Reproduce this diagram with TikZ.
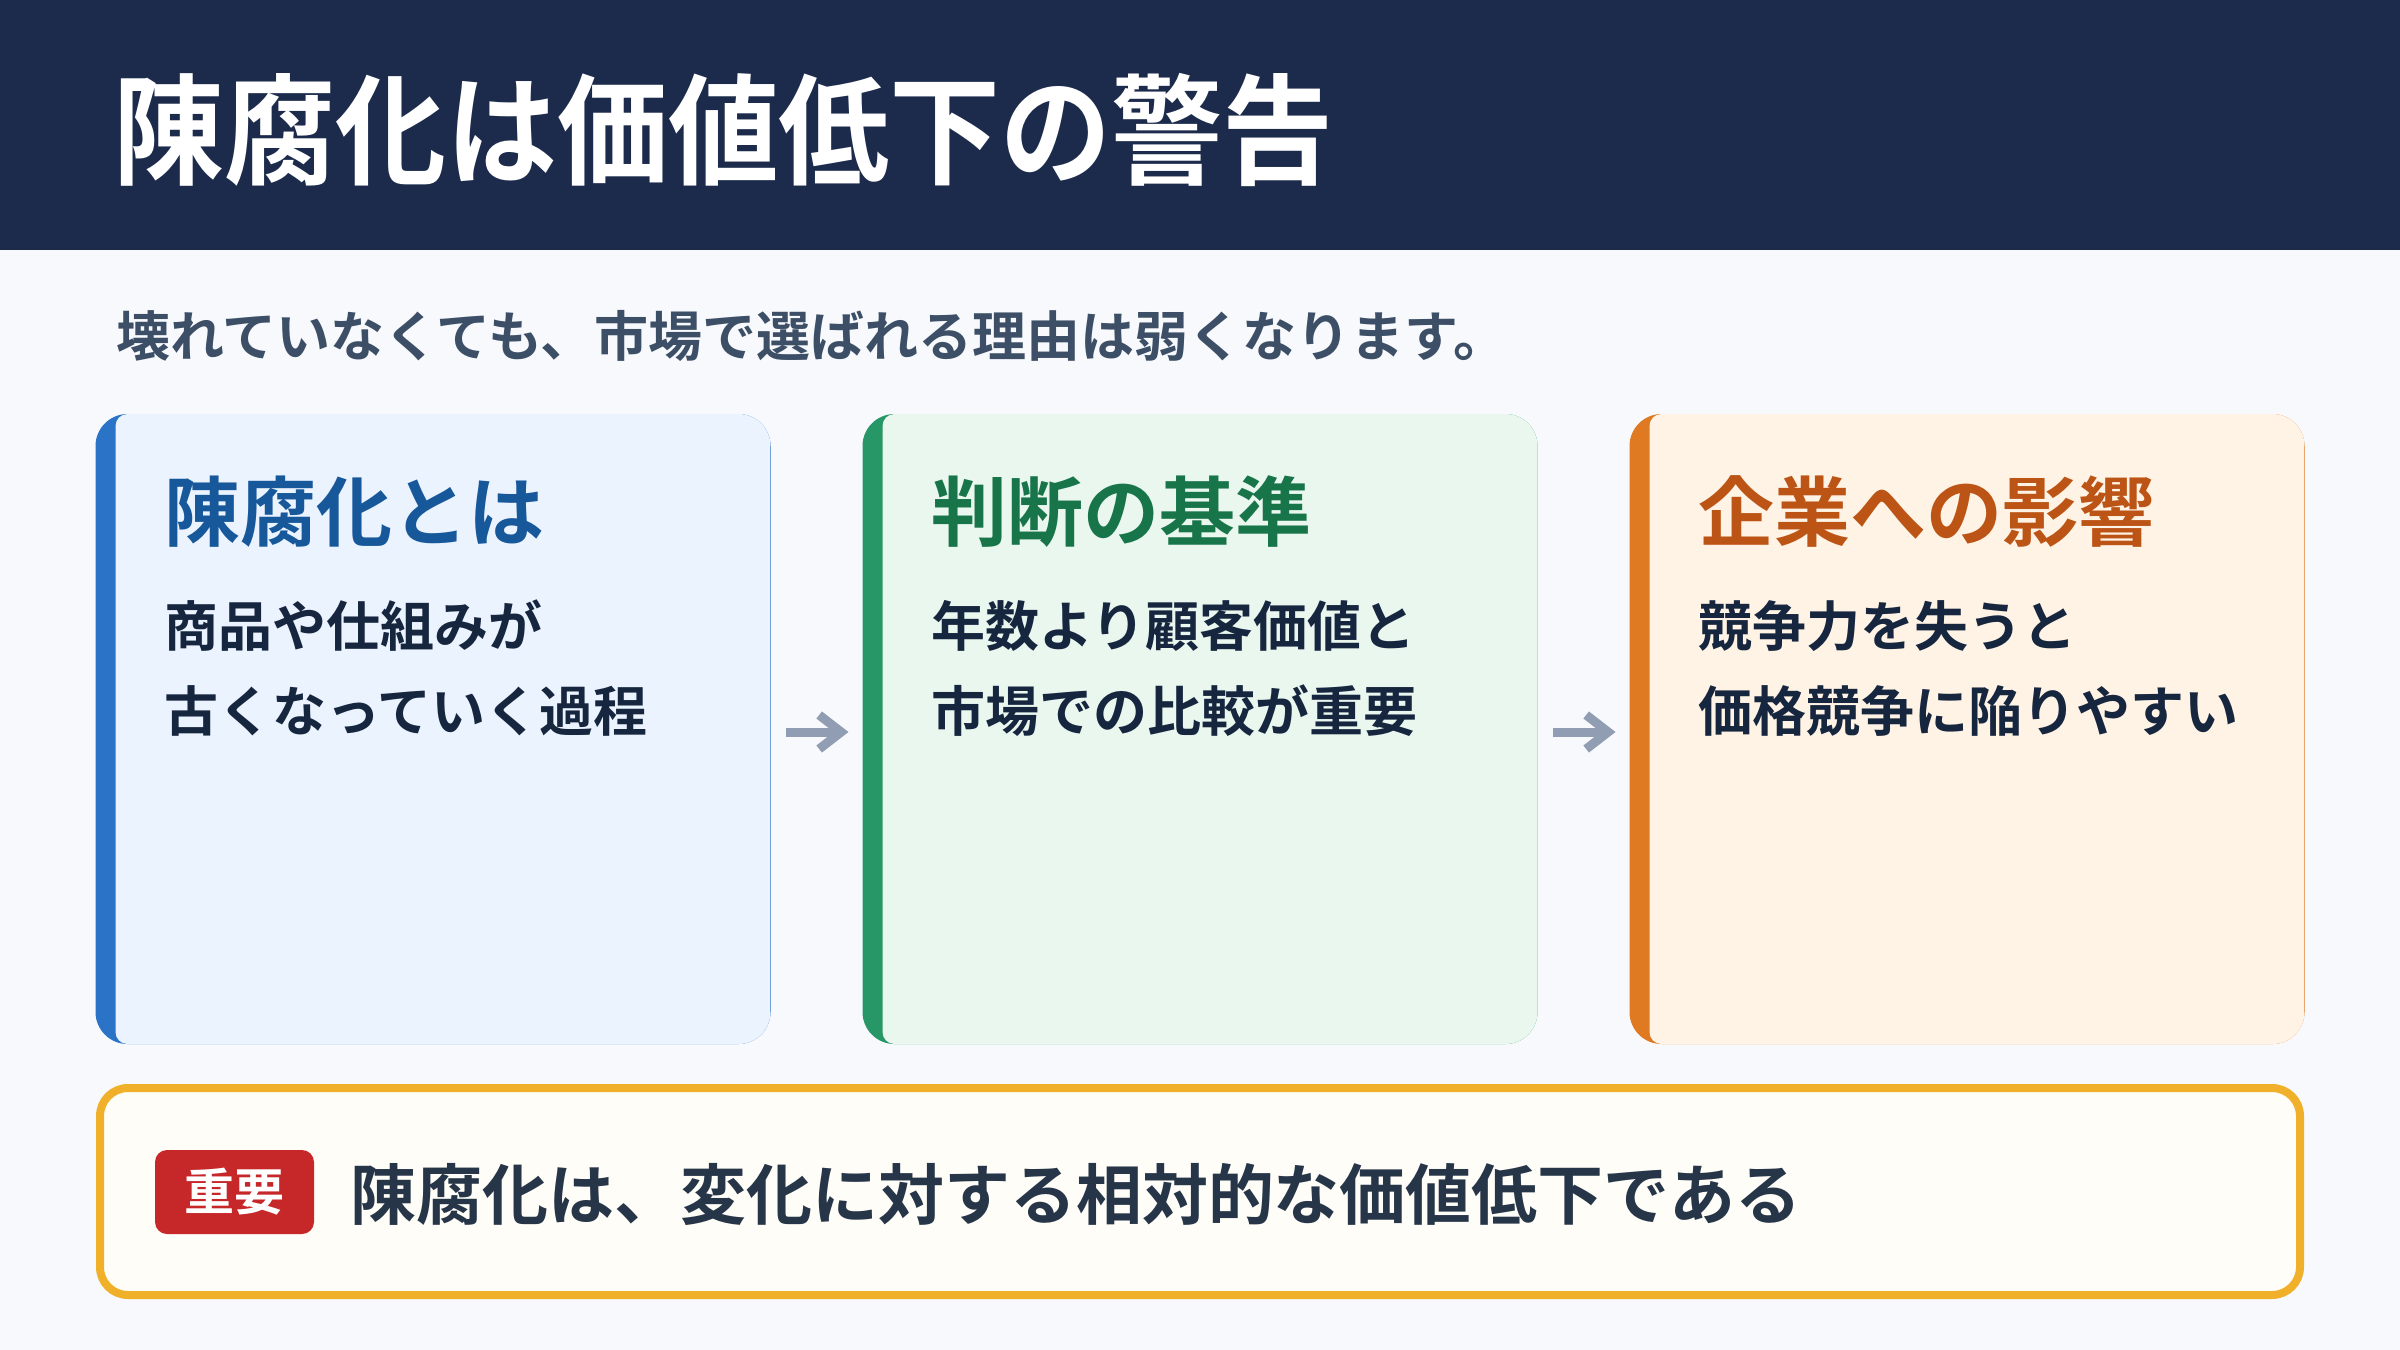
\documentclass[tikz,border=0pt]{standalone}
\usepackage{fontspec}
\setmainfont{Noto Sans CJK JP}[BoldFont={* Bold}]
\newfontfamily\titlefont{Noto Sans CJK JP Bold}[FakeStretch=0.925]
\usetikzlibrary{arrows.meta}
\definecolor{navy}{HTML}{1C2B4C}
\definecolor{bgc}{HTML}{F7F9FD}
\definecolor{subc}{HTML}{3D4F66}
\definecolor{bodyc}{HTML}{17263F}
\definecolor{arrowc}{HTML}{919DB3}
\definecolor{barA}{HTML}{2B73C6}
\definecolor{fillA}{HTML}{EBF3FF}
\definecolor{headA}{HTML}{17589B}
\definecolor{barB}{HTML}{279767}
\definecolor{fillB}{HTML}{EAF7EF}
\definecolor{headB}{HTML}{18754A}
\definecolor{barC}{HTML}{E07A22}
\definecolor{fillC}{HTML}{FFF3E5}
\definecolor{headC}{HTML}{BC5415}
\definecolor{notefill}{HTML}{FFFDF7}
\definecolor{noteborder}{HTML}{F0B02A}
\definecolor{notetext}{HTML}{263548}
\definecolor{badgec}{HTML}{C6282A}
\tikzset{
  card/.style n args={2}{draw=none, fill=#1, rounded corners=16pt,
    minimum width=337.5pt, minimum height=315pt, inner sep=0pt, outer sep=0pt,
    path picture={\fill[#2, rounded corners=6pt]
      ([xshift=10pt]path picture bounding box.north west) rectangle
      (path picture bounding box.south east);}},
  txt/.style={anchor=base west, inner sep=0pt, outer sep=0pt},
  cardhead/.style={txt, font=\fontsize{38}{44}\selectfont\bfseries},
  cardbody/.style={txt, text=bodyc, font=\fontsize{27}{32}\selectfont\bfseries},
  flow/.style={draw=arrowc, line width=4.5pt, shorten <=7.5pt, shorten >=7pt,
    -{Straight Barb[length=11pt,width=17pt]}},
}
\begin{document}
\begin{tikzpicture}[x=0.5pt,y=-0.5pt]
\useasboundingbox (0,0) rectangle (2400,1350);
\fill[bgc] (0,0) rectangle (2400,1350);
% header
\node[fill=navy, minimum width=1200pt, minimum height=125pt, inner sep=0pt, outer sep=0pt, anchor=north west] (hdr) at (0,0) {};
\node[txt, text=white, font=\fontsize{60}{70}\selectfont\titlefont] (title) at (113,175) {陳腐化は価値低下の警告};
% subtitle
\node[txt, text=subc, font=\fontsize{27}{32}\selectfont\bfseries] (sub) at (116,356) {壊れていなくても、市場で選ばれる理由は弱くなります。};
% cards
\node[card={barA}{fillA}] (c1) at (433,729) {};
\node[card={barB}{fillB}] (c2) at (1200,729) {};
\node[card={barC}{fillC}] (c3) at (1967,729) {};
\node[cardhead, text=headA] (h1) at (164,540) {陳腐化とは};
\node[cardbody] (b1a) at (164,646) {商品や仕組みが};
\node[cardbody] (b1b) at (164,731) {古くなっていく過程};
\node[cardhead, text=headB] (h2) at (931,540) {判断の基準};
\node[cardbody] (b2a) at (931,646) {年数より顧客価値と};
\node[cardbody] (b2b) at (931,731) {市場での比較が重要};
\node[cardhead, text=headC] (h3) at (1698,540) {企業への影響};
\node[cardbody] (b3a) at (1698,646) {競争力を失うと};
\node[cardbody] (b3b) at (1698,731) {価格競争に陥りやすい};
% arrows
\draw[flow] ([yshift=-1.5pt]c1.east) -- ([yshift=-1.5pt]c2.west);
\draw[flow] ([yshift=-1.5pt]c2.east) -- ([yshift=-1.5pt]c3.west);
% note
\node[draw=noteborder, line width=4pt, fill=notefill, rounded corners=14pt,
  minimum width=1100pt, minimum height=103.5pt, inner sep=0pt] (note) at (1200,1191.5) {};
\node[fill=badgec, rounded corners=6pt, minimum width=79.5pt, minimum height=42pt,
  inner sep=0pt, text=white, font=\fontsize{25}{30}\selectfont\bfseries] (badge) at (234.5,1192) {重要};
\node[txt, text=notetext, font=\fontsize{33}{40}\selectfont\bfseries] (msg) at (350,1219) {陳腐化は、変化に対する相対的な価値低下である};
\end{tikzpicture}
\end{document}
